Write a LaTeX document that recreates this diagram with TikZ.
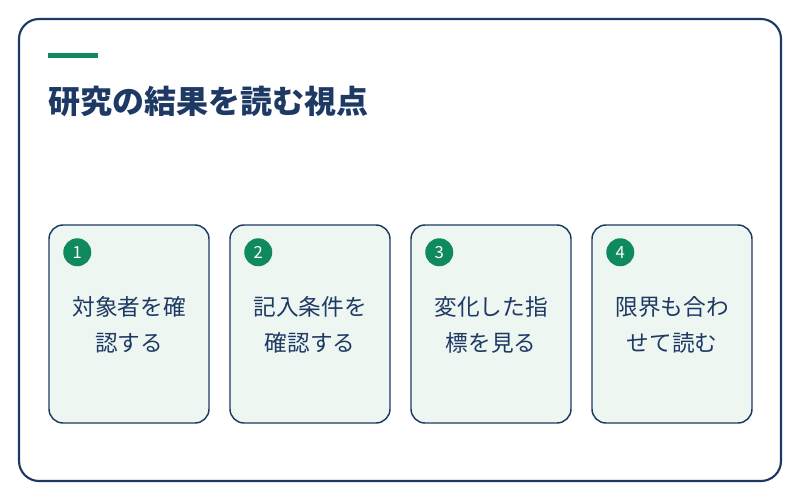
\documentclass[tikz,border=0pt]{standalone}
\usepackage{fontspec}
\setmainfont{Noto Sans CJK JP}
\definecolor{navy}{HTML}{1E3A64}
\definecolor{accent}{HTML}{0E8A5C}
\definecolor{cardfill}{HTML}{EEF6F1}
\begin{document}
\begin{tikzpicture}[x=0.75pt,y=-0.75pt,
  frame/.style={draw=navy,line width=1.6pt,rounded corners=15pt,fill=white},
  card/.style={draw=navy,line width=1.1pt,rounded corners=10.5pt,fill=cardfill,minimum width=120pt,minimum height=148.5pt,inner sep=0pt},
  badge/.style={circle,fill=accent,minimum size=21pt,inner sep=0pt,text=white,font=\fontsize{12.5pt}{14pt}\selectfont},
  cardtext/.style={text=navy,align=center,font=\fontsize{17pt}{27pt}\selectfont},
  titletext/.style={text=navy,anchor=west,font=\fontsize{24pt}{28pt}\selectfont\bfseries}]
\useasboundingbox (0,0) rectangle (800,500);
\fill[white] (0,0) rectangle (800,500);
\draw[frame] (19,19) rectangle (781,481);
\fill[accent] (48,53) rectangle (98,57.5);
\node[titletext] (title) at (44,101) {研究の結果を読む視点};
\foreach \i/\x/\t in {1/129/{対象者を確\\認する},2/310/{記入条件を\\確認する},3/491/{変化した指\\標を見る},4/672/{限界も合わ\\せて読む}}{
  \node[card] (card\i) at (\x,324) {};
  \node[badge] (badge\i) at ([xshift=21.75pt,yshift=-21pt]card\i.north west) {\i};
  \node[cardtext] (text\i) at (\x,325) {\t};
}
\end{tikzpicture}
\end{document}
